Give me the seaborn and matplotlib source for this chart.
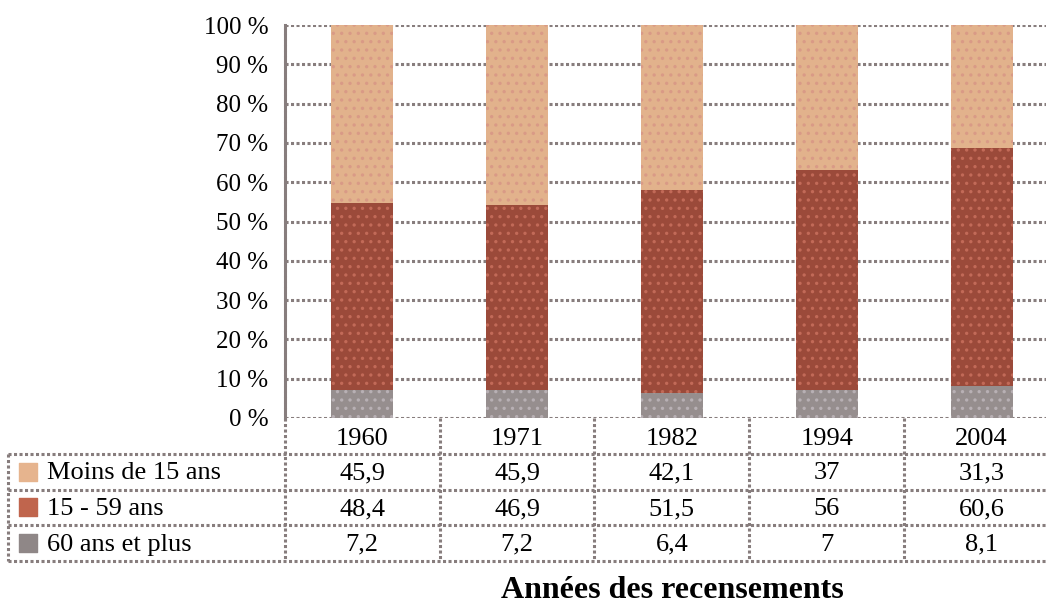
import pandas as pd
import seaborn as sns
import matplotlib.pyplot as plt

# data
years = ["1960", "1971", "1982", "1994", "2004"]
groups = ["Moins de 15 ans", "15 - 59 ans", "60 ans et plus"]
moins_15 = [45.9, 45.9, 42.1, 37, 31.3]
de_15_59 = [48.4, 46.9, 51.5, 56, 60.6]
plus_60 = [7.2, 7.2, 6.4, 7, 8.1]
colors = ["#E2B28C", "#9B4A3A", "#968E8E"]
dot_colors = ["#D99A86", "#C26A58", "#B8B0B4"]
swatch_colors = ["#E6B48E", "#C0654D", "#8F8787"]
grid_color = "#877D7D"

sns.set_style("white")
plt.rcParams["font.family"] = ["Liberation Serif", "DejaVu Serif"]
plt.rcParams["text.color"] = "black"
plt.rcParams["ytick.labelcolor"] = "black"
plt.rcParams["hatch.linewidth"] = 1.2

df = pd.DataFrame({"year": years, groups[0]: moins_15,
                   groups[1]: de_15_59, groups[2]: plus_60})
total = df[groups].sum(axis=1)
pct = df[groups].div(total, axis=0) * 100

# stacked from the bottom: 60+, 15-59, <15
cum_low = pct[groups[2]]
cum_mid = cum_low + pct[groups[1]]
cum_top = cum_mid + pct[groups[0]]

fig = plt.figure(figsize=(10.46, 6.03), dpi=100)
W, H = 1046, 603
ax = fig.add_axes([285 / W, 1 - 418 / H, (1059 - 285) / W, (418 - 25) / H])

for cum, col, dc in zip([cum_top, cum_mid, cum_low], colors, dot_colors):
    n_before = len(ax.patches)
    sns.barplot(x=df["year"], y=cum, color=col, width=0.4, saturation=1,
                linewidth=0, ax=ax, zorder=3)
    for p in ax.patches[n_before:]:
        p.set_hatch("..")
        p.set_edgecolor(dc)
        p.set_linewidth(0)

ax.set_xlim(-0.5, 4.5)
ax.set_ylim(0, 100)
ax.set_yticks(range(0, 101, 10))
ax.set_yticklabels([f"{v} %" for v in range(0, 101, 10)], fontsize=18)
ax.set_xticks([])
ax.set_xlabel("")
ax.set_ylabel("")
dots = (0, (1, 0.8))
ax.grid(axis="y", color=grid_color, linestyle=dots, linewidth=2.2, zorder=1)
ax.set_axisbelow(True)
for s in ["top", "right", "bottom"]:
    ax.spines[s].set_visible(False)
ax.spines["left"].set_color(grid_color)
ax.spines["left"].set_linestyle(dots)
ax.spines["left"].set_linewidth(2.2)
ax.tick_params(axis="y", length=9, width=2.2, color=grid_color, pad=3)

# data table under the bars, sharing the bar columns
left_units = (285 - 8) / 155
tax = fig.add_axes([8 / W, 1 - 561 / H, (1059 - 8) / W, (561 - 418) / H])
tax.set_xlim(-0.5 - left_units, 4.5)
tax.set_ylim(4, 0)
tax.axis("off")
line_kw = dict(color=grid_color, linestyle=dots, linewidth=2.2, clip_on=False)
x0 = -0.5 - left_units
for y in [1, 2, 3, 4]:
    tax.plot([x0, 4.6], [y, y], **line_kw)
tax.plot([x0, x0], [1, 4], **line_kw)
for xv in [-0.5, 0.5, 1.5, 2.5, 3.5]:
    tax.plot([xv, xv], [0, 4], **line_kw)

for i, yr in enumerate(years):
    tax.text(i, 0.58, yr, ha="center", va="center", fontsize=19)

rows = [moins_15, de_15_59, plus_60]
for r, (name, vals, sc) in enumerate(zip(groups, rows, swatch_colors)):
    yc = r + 1.55
    tax.scatter([x0 + 0.126], [yc - 0.05], marker="s", s=170, color=sc, clip_on=False)
    tax.text(x0 + 0.252, yc, name, ha="left", va="center", fontsize=19)
    for i, v in enumerate(vals):
        tax.text(i, yc, f"{v:g}".replace(".", ","), ha="center", va="center", fontsize=19)

fig.text(672 / W, 1 - 590 / H, "Années des recensements", ha="center", va="center",
         fontsize=23, fontweight="bold")

fig.savefig("out.png", dpi=100)
